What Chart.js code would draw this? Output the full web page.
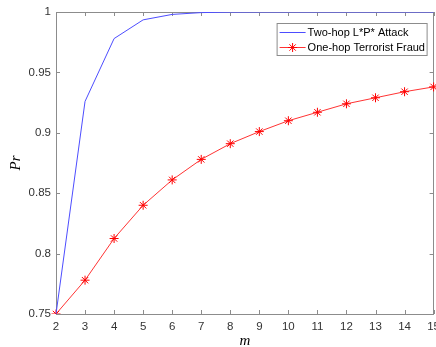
<!DOCTYPE html>
<html>
<head>
<meta charset="utf-8">
<script src="https://cdn.jsdelivr.net/npm/chart.js@4.4.0/dist/chart.umd.min.js"></script>
<style>
    html, body { margin: 0; padding: 0; background: #fff; overflow: hidden; }
    #wrap { position: relative; width: 436px; height: 347px; overflow: hidden; }
    #chart { position: absolute; left: 0; top: 0; }
</style>
</head>
<body>
<div id="wrap"><canvas id="chart" width="446" height="347"></canvas></div>
<script>
const M_VALUES = ['2', '3', '4', '5', '6', '7', '8', '9', '10', '11', '12', '13', '14', '15'];
const TWO_HOP = [0.75, 0.926, 0.978, 0.9935, 0.998, 0.9995, 0.9999, 1, 1, 1, 1, 1, 1, 1];
const ONE_HOP = [0.75, 0.778, 0.8125, 0.84, 0.861, 0.878, 0.891, 0.901, 0.91, 0.917, 0.924, 0.929, 0.934, 0.938];
const SERIES_NAMES = ['Two-hop L*P* Attack', 'One-hop Terrorist Fraud'];
const Y_MIN = 0.75, Y_MAX = 1, Y_STEP = 0.05;

const AXIS_COLOR = '#8c8c8c';
const TEXT_COLOR = '#333333';
const SANS = '"Liberation Sans", Arial, sans-serif';
const SERIF = '"Liberation Serif", "Times New Roman", serif';

// box around the plot with MATLAB-style inward ticks
const frameTicks = {
    id: 'frameTicks',
    beforeDatasetsDraw(chart) {
        const { ctx, chartArea: a, scales: { x, y } } = chart;
        const len = 4;
        ctx.save();
        ctx.strokeStyle = AXIS_COLOR;
        ctx.lineWidth = 1;
        ctx.beginPath();
        x.ticks.forEach((t, i) => {
            const px = Math.round(x.getPixelForTick(i)) + 0.5;
            ctx.moveTo(px, a.bottom); ctx.lineTo(px, a.bottom - len);
            ctx.moveTo(px, a.top); ctx.lineTo(px, a.top + len);
        });
        y.ticks.forEach((t, i) => {
            const py = Math.round(y.getPixelForTick(i)) + 0.5;
            ctx.moveTo(a.left, py); ctx.lineTo(a.left + len, py);
            ctx.moveTo(a.right, py); ctx.lineTo(a.right - len, py);
        });
        ctx.stroke();
        ctx.strokeRect(Math.round(a.left) + 0.5, Math.round(a.top) + 0.5,
            Math.round(a.right - a.left) - 1, Math.round(a.bottom - a.top));
        ctx.restore();
    }
};

// legend box in the upper right corner, line sample + marker like MATLAB
const boxLegend = {
    id: 'boxLegend',
    afterDraw(chart) {
        const { ctx, chartArea: a } = chart;
        const w = 150, h = 32;
        const bx = a.right - 7 - w, by = a.top + 11;
        ctx.save();
        ctx.fillStyle = '#fff';
        ctx.fillRect(bx, by, w, h);
        ctx.strokeStyle = AXIS_COLOR;
        ctx.lineWidth = 1;
        ctx.strokeRect(bx + 0.5, by + 0.5, w, h);
        ctx.font = '11px ' + SANS;
        ctx.textBaseline = 'middle';
        chart.data.datasets.forEach((ds, i) => {
            const ly = by + 9.5 + i * 15;
            ctx.strokeStyle = ds.borderColor;
            ctx.lineWidth = ds.borderWidth;
            ctx.beginPath();
            ctx.moveTo(bx + 3, ly);
            ctx.lineTo(bx + 29, ly);
            ctx.stroke();
            if (ds.pointRadius > 0) {
                ctx.strokeStyle = ds.pointBorderColor;
                Chart.helpers.drawPoint(ctx, {
                    pointStyle: ds.pointStyle, radius: ds.pointRadius,
                    borderWidth: ds.pointBorderWidth, rotation: 0
                }, bx + 16, ly);
            }
            ctx.fillStyle = '#000';
            ctx.fillText(ds.label, bx + 31, ly);
        });
        ctx.restore();
    }
};

new Chart(document.getElementById('chart'), {
    type: 'line',
    data: {
        labels: M_VALUES,
        datasets: [
            {
                label: SERIES_NAMES[0],
                data: TWO_HOP,
                borderColor: '#4d4dff',
                borderWidth: 1,
                pointRadius: 0,
                tension: 0,
                fill: false
            },
            {
                label: SERIES_NAMES[1],
                data: ONE_HOP,
                borderColor: '#ff3333',
                borderWidth: 1,
                pointStyle: 'star',
                pointRadius: 4.5,
                pointBorderColor: '#ff0000',
                pointBackgroundColor: '#ff0000',
                pointBorderWidth: 1,
                tension: 0,
                fill: false
            }
        ]
    },
    options: {
        responsive: false,
        animation: false,
        devicePixelRatio: 1,
        layout: { padding: { left: 0, top: 12, right: 12, bottom: 0 } },
        plugins: {
            legend: { display: false },
            tooltip: { enabled: false }
        },
        scales: {
            x: {
                type: 'category',
                offset: false,
                grid: { display: false, drawTicks: false },
                border: { display: false },
                ticks: {
                    color: TEXT_COLOR,
                    font: { family: SANS, size: 11.5 },
                    padding: 6,
                    maxRotation: 0,
                    autoSkip: false
                },
                title: {
                    display: true,
                    text: 'm',
                    color: '#000',
                    font: { family: SERIF, style: 'italic', size: 15, lineHeight: '12px' },
                    padding: { top: 0, bottom: 0 }
                },
                afterFit(scale) { scale.height = 33; }
            },
            y: {
                min: Y_MIN,
                max: Y_MAX,
                grid: { display: false, drawTicks: false },
                border: { display: false },
                ticks: {
                    stepSize: Y_STEP,
                    color: TEXT_COLOR,
                    font: { family: SANS, size: 11.5 },
                    padding: 5,
                    callback: v => String(+v.toFixed(2))
                },
                title: {
                    display: true,
                    text: 'Pr',
                    color: '#000',
                    font: { family: SERIF, style: 'italic', size: 15, lineHeight: '12px' },
                    padding: { top: 10, bottom: 0 }
                },
                afterFit(scale) { scale.width = 56; }
            }
        }
    },
    plugins: [frameTicks, boxLegend]
});
</script>
</body>
</html>
